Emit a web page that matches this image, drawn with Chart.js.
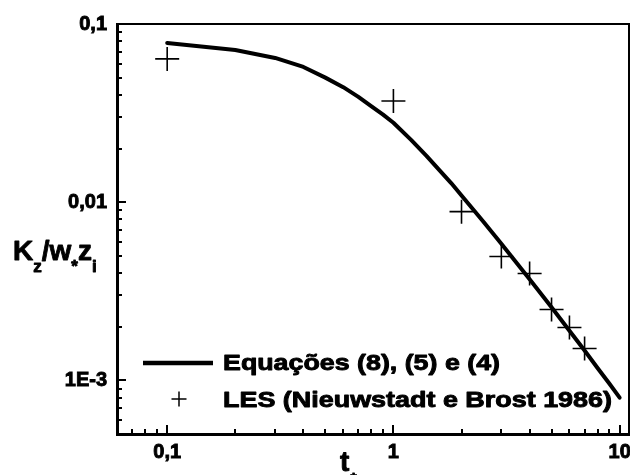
<!DOCTYPE html>
<html>
<head>
<meta charset="utf-8">
<script src="https://cdn.jsdelivr.net/npm/chart.js@4/dist/chart.umd.min.js"></script>
<style>
html,body{margin:0;padding:0;background:#fff;}
#wrap{width:630px;height:475px;position:relative;}
</style>
</head>
<body>
<div id="wrap"><canvas id="c" width="630" height="475"></canvas></div>
<script>
// ---- data ----
const curveT = [0.1, 0.2, 0.3, 0.4, 0.5, 0.6, 0.7, 0.8, 0.9, 1, 1.2, 1.4, 1.6, 1.8, 2, 2.5, 3, 4, 5, 6, 7, 8, 9, 10];
const curveK = [0.0783, 0.0715, 0.0645, 0.0574, 0.0500, 0.0442, 0.0390, 0.0345, 0.0310, 0.0279, 0.0223, 0.0182, 0.0151, 0.0128, 0.0109, 0.00776, 0.00584, 0.00369, 0.00257, 0.0019, 0.00147, 0.00117, 0.00096, 0.0008];
const lesT = [0.1, 1, 2, 3, 4, 5, 6, 7];
const lesK = [0.0637, 0.037, 0.00885, 0.00496, 0.00398, 0.0025, 0.00198, 0.00151];
const seriesNames = ['Equações (8), (5) e (4)', 'LES (Nieuwstadt e Brost 1986)'];
const xTickVals = [0.1, 1, 10];
const xTickLabels = ['0,1', '1', '10'];
const yTickVals = [0.1, 0.01, 0.001];
const yTickLabels = ['0,1', '0,01', '1E-3'];
const xRange = [0.06, 11];
const yRange = [5e-4, 0.1];

const FONT = '"Liberation Sans", Arial, sans-serif';

const framePlugin = {
  id: 'frame',
  afterDraw(chart) {
    const ctx = chart.ctx;
    const a = chart.chartArea;
    const xs = chart.scales.x, ys = chart.scales.y;
    ctx.save();
    ctx.strokeStyle = '#000';
    // top & right frame
    ctx.lineWidth = 2;
    ctx.beginPath();
    ctx.moveTo(a.left, a.top); ctx.lineTo(a.right, a.top); ctx.lineTo(a.right, a.bottom);
    ctx.stroke();
    // inward ticks
    ctx.lineWidth = 2;
    for (let e = -4; e <= 1; e++) {
      for (let k = 1; k <= 9; k++) {
        const v = k * Math.pow(10, e);
        const len = k === 1 ? 9 : 5;
        if (v >= xRange[0] && v <= xRange[1]) {
          const px = Math.round(xs.getPixelForValue(v));
          ctx.beginPath(); ctx.moveTo(px, a.bottom); ctx.lineTo(px, a.bottom - len); ctx.stroke();
        }
        if (v >= yRange[0] && v <= yRange[1]) {
          const py = Math.round(ys.getPixelForValue(v));
          ctx.beginPath(); ctx.moveTo(a.left, py); ctx.lineTo(a.left + len, py); ctx.stroke();
        }
      }
    }
    // legend
    ctx.fillStyle = '#000';
    ctx.lineWidth = 4.5;
    ctx.beginPath(); ctx.moveTo(143, 363); ctx.lineTo(213, 363); ctx.stroke();
    ctx.lineWidth = 1.5;
    ctx.beginPath();
    ctx.moveTo(171.5, 399); ctx.lineTo(186.5, 399);
    ctx.moveTo(179, 391.5); ctx.lineTo(179, 406.5);
    ctx.stroke();
    ctx.textBaseline = 'alphabetic';
    ctx.textAlign = 'left';
    ctx.lineJoin = 'round';
    const txt = (t, x, y) => { ctx.lineWidth = 0.9; ctx.strokeText(t, x, y); ctx.fillText(t, x, y); };
    ctx.font = 'bold 22px ' + FONT;
    const drawStretched = (t, x, y, targetW) => {
      const w = ctx.measureText(t).width;
      ctx.save(); ctx.translate(x, y); ctx.scale(targetW / w, 1); txt(t, 0, 0); ctx.restore();
    };
    drawStretched(seriesNames[0], 223, 370, 277);
    drawStretched(seriesNames[1], 223, 407, 389);
    // y title K_z/w_* z_i
    let x = 13;
    const big = 'bold 28px ' + FONT, small = 'bold 17px ' + FONT;
    const parts = [['K', big, 260], ['z', small, 272], ['/w', big, 260], ['*', small, 272], ['z', big, 260], ['i', small, 272]];
    for (const [t, f, by] of parts) {
      ctx.font = f; txt(t, x, by); x += ctx.measureText(t).width;
    }
    // x title t_*
    ctx.font = big; txt('t', 340, 471);
    const tw = ctx.measureText('t').width;
    ctx.font = small; txt('*', 340 + tw + 1, 485);
    ctx.restore();
  }
};

new Chart(document.getElementById('c'), {
  type: 'scatter',
  data: {
    datasets: [
      {
        label: seriesNames[0],
        type: 'line',
        data: curveT.map((t, i) => ({x: t, y: curveK[i]})),
        borderColor: '#000',
        borderWidth: 4,
        pointRadius: 0,
        tension: 0,
        fill: false,
        borderCapStyle: 'round',
        borderJoinStyle: 'round'
      },
      {
        label: seriesNames[1],
        data: lesT.map((t, i) => ({x: t, y: lesK[i]})),
        pointStyle: 'cross',
        pointRadius: 12,
        borderColor: '#000',
        backgroundColor: '#000',
        borderWidth: 1.6
      }
    ]
  },
  options: {
    responsive: false,
    animation: false,
    devicePixelRatio: 1,
    layout: { autoPadding: false, padding: { top: 24, right: 1, left: 0, bottom: 0 } },
    plugins: { legend: { display: false }, tooltip: { enabled: false } },
    scales: {
      x: {
        type: 'logarithmic',
        min: xRange[0], max: xRange[1],
        grid: { display: false, drawTicks: false },
        border: { display: true, color: '#000', width: 3 },
        afterBuildTicks: (s) => { s.ticks = xTickVals.map(v => ({value: v})); },
        afterFit: (s) => { s.height = 41; s.paddingLeft = 0; s.paddingRight = 0; },
        ticks: {
          autoSkip: false, maxRotation: 0, padding: 6, color: '#000',
          textStrokeColor: '#000', textStrokeWidth: 0.9,
          font: { family: FONT, size: 20, weight: 'bold' },
          callback: (v, i) => xTickLabels[i]
        }
      },
      y: {
        type: 'logarithmic',
        min: yRange[0], max: yRange[1],
        grid: { display: false, drawTicks: false },
        border: { display: true, color: '#000', width: 3 },
        afterBuildTicks: (s) => { s.ticks = yTickVals.map(v => ({value: v})); },
        afterFit: (s) => { s.width = 117; s.paddingTop = 0; s.paddingBottom = 0; },
        ticks: {
          autoSkip: false, padding: 10, color: '#000',
          textStrokeColor: '#000', textStrokeWidth: 0.9,
          font: { family: FONT, size: 20, weight: 'bold' },
          callback: (v, i) => yTickLabels[i]
        }
      }
    }
  },
  plugins: [framePlugin]
});
</script>
</body>
</html>
